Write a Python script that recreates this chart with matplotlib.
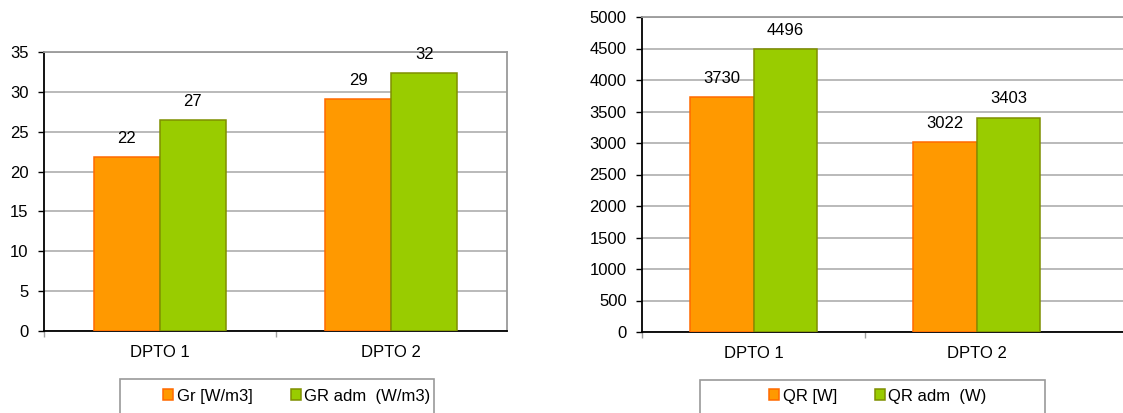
import matplotlib
matplotlib.use("Agg")
from matplotlib import pyplot as plt
from matplotlib.patches import Rectangle, Patch
import numpy as np

plt.rcParams['font.family'] = ['Liberation Sans', 'DejaVu Sans']

# data
categories = ['DPTO 1', 'DPTO 2']
gr_series = [[21.8, 29.1], [26.5, 32.4]]
gr_labels = [['22', '29'], ['27', '32']]
qr_series = [[3730, 3022], [4496, 3403]]
qr_labels = [['3730', '3022'], ['4496', '3403']]
left_names = ['Gr [W/m3]', 'GR adm  (W/m3)']
right_names = ['QR [W]', 'QR adm  (W)']

W, H = 1123, 413
fill_colors = ['#FF9900', '#99CC00']
edge_colors = ['#FF6A00', '#7F8F00']


def px(x0, y0, x1, y1):
    """pixel box (top-left origin) -> figure fraction rect"""
    return [x0 / W, (H - y1) / H, (x1 - x0) / W, (y1 - y0) / H]


def draw_panel(ax, series, labels, ymax, ystep, xmax):
    x = np.arange(len(categories))
    bw = 0.286
    for i, vals in enumerate(series):
        offs = (i - 0.5) * bw
        bars = ax.bar(x + offs, vals, bw, color=fill_colors[i],
                      edgecolor=edge_colors[i], linewidth=1.1, zorder=3)
        for b, lab in zip(bars, labels[i]):
            ax.annotate(lab, (b.get_x() + b.get_width() / 2, b.get_height()),
                        xytext=(0, 8), textcoords='offset points',
                        ha='center', va='bottom', fontsize=12, zorder=4)
    ax.set_xlim(-0.5, xmax)
    ax.set_ylim(0, ymax)
    ax.set_yticks(np.arange(0, ymax + 1, ystep))
    ax.yaxis.grid(True, color='#B4B4B4', linewidth=1.3)
    ax.set_axisbelow(True)
    ax.set_xticks(x)
    ax.set_xticklabels(categories, fontsize=12)
    ax.tick_params(axis='x', which='major', length=0, pad=10)
    ax.tick_params(axis='y', labelsize=12, length=4, width=1, color='black', pad=7)
    # category boundary ticks
    ax.set_xticks(np.arange(-0.5, xmax, 1.0), minor=True)
    ax.tick_params(axis='x', which='minor', length=4, width=1, color='#A0A0A0')
    for side in ['left', 'bottom']:
        ax.spines[side].set_color('black')
        ax.spines[side].set_linewidth(1.3)
    for side in ['top', 'right']:
        ax.spines[side].set_color('#9A9A9A')
        ax.spines[side].set_linewidth(1.3)


def draw_legend(fig, box, names, center_x):
    x0, y0, x1, y1 = box
    fig.patches.append(Rectangle((x0 / W, (H - y1) / H), (x1 - x0) / W, (y1 - y0) / H,
                                 transform=fig.transFigure, fill=False,
                                 edgecolor='#9A9A9A', linewidth=1.2))
    handles = [Patch(facecolor=fill_colors[i], edgecolor=edge_colors[i], linewidth=1.1)
               for i in range(2)]
    fig.legend(handles, names, loc='center', bbox_to_anchor=(center_x / W, (H - 396) / H),
               ncol=2, frameon=False, fontsize=12, handlelength=0.6, handleheight=0.6,
               handletextpad=0.2, columnspacing=2.3)


fig = plt.figure(figsize=(W / 100, H / 100), dpi=100)

ax1 = fig.add_axes(px(44, 52, 507, 331))
draw_panel(ax1, gr_series, gr_labels, 35, 5, 1.5)

# right chart runs off the edge of the picture
ax2 = fig.add_axes(px(642, 17, 1123, 332))
draw_panel(ax2, qr_series, qr_labels, 5000, 500, 1.5 + 35 / 223)
ax2.spines['right'].set_visible(False)
ax2.set_xticks([-0.5, 0.5], minor=True)

draw_legend(fig, (120, 379, 434, 420), left_names, 297)
draw_legend(fig, (700, 380, 1045, 420), right_names, 878)

fig.savefig('out.png', dpi=100)
